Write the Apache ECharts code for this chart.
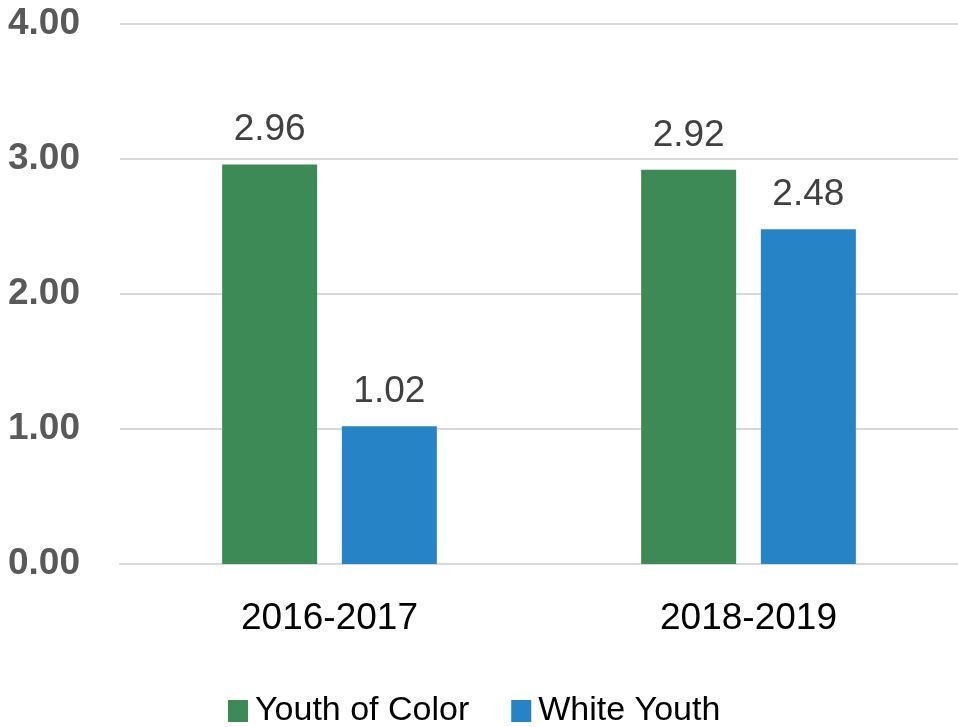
<!DOCTYPE html>
<html><head><meta charset="utf-8">
<script src="https://cdn.jsdelivr.net/npm/echarts@6/dist/echarts.min.js"></script>
<style>html,body{margin:0;padding:0;background:#fff}#c{width:958px;height:727px}</style>
</head><body><div id="c"></div>
<script>
const categories = ["2016-2017", "2018-2019"];
const youthOfColor = [2.96, 2.92];
const whiteYouth = [1.02, 2.48];
const seriesNames = ["Youth of Color", "White Youth"];
const yTicks = { min: 0, max: 4, interval: 1 };

const FONT = '"Liberation Sans", sans-serif';
const chart = echarts.init(document.getElementById('c'));
const labelCfg = {
  show: true, position: 'top', distance: 16,
  fontFamily: FONT, fontSize: 37, color: '#404040',
  formatter: p => p.value.toFixed(2)
};
chart.setOption({
  animation: false,
  grid: { left: 120, right: 0, top: 24, bottom: 163, containLabel: false },
  legend: {
    top: 689, left: 223,
    itemWidth: 20, itemHeight: 22, itemGap: 42,
    icon: 'rect',
    textStyle: { fontFamily: FONT, fontSize: 34, color: '#000', padding: [0, 0, 0, 2] },
    data: seriesNames
  },
  xAxis: {
    type: 'category', data: categories,
    axisLine: { lineStyle: { color: '#d9d9d9', width: 2 } },
    axisTick: { show: false },
    axisLabel: { fontFamily: FONT, fontSize: 37, color: '#000', margin: 36 }
  },
  yAxis: {
    type: 'value', min: yTicks.min, max: yTicks.max, interval: yTicks.interval,
    splitLine: { lineStyle: { color: '#d9d9d9', width: 2 } },
    axisLine: { show: false }, axisTick: { show: false },
    axisLabel: { fontFamily: FONT, fontWeight: 'bold', fontSize: 37, color: '#595959', margin: 40,
      formatter: v => v.toFixed(2) }
  },
  series: [
    { name: seriesNames[0], type: 'bar', data: youthOfColor, barWidth: 95, barGap: '26%',
      itemStyle: { color: '#3D8A56' }, label: labelCfg },
    { name: seriesNames[1], type: 'bar', data: whiteYouth, barWidth: 95,
      itemStyle: { color: '#2683C6' }, label: labelCfg }
  ]
});
</script></body></html>
